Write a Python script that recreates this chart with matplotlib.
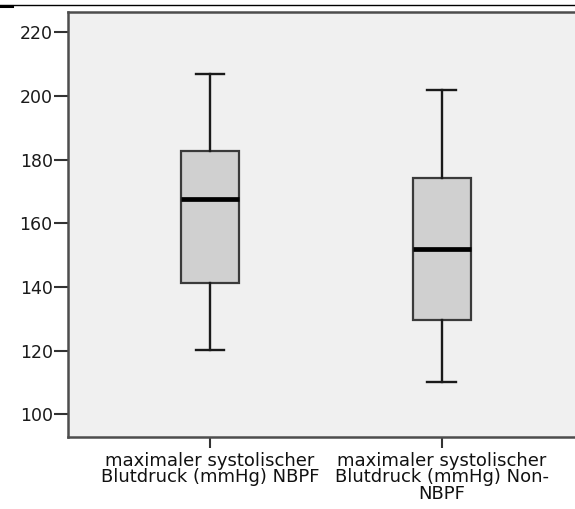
import matplotlib
matplotlib.use("Agg")
import matplotlib.pyplot as plt
from matplotlib.lines import Line2D

categories = ["maximaler systolischer\nBlutdruck (mmHg) NBPF",
              "maximaler systolischer\nBlutdruck (mmHg) Non-\nNBPF"]
whisker_low = [120.2, 110.0]
q1 = [141.1, 129.6]
median = [167.8, 151.8]
q3 = [182.8, 174.1]
whisker_high = [206.9, 202.0]
yticks = [100, 120, 140, 160, 180, 200, 220]

plt.rcParams['font.family'] = ['DejaVu Sans']

fig = plt.figure(figsize=(5.75, 5.09), dpi=100)
fig.patch.set_facecolor('white')
ax = fig.add_axes([68/575, 1-437/509, (583.7-68)/575, (437-11.7)/509])
ax.set_facecolor('#F0F0F0')

stats = []
for i in range(len(categories)):
    stats.append(dict(whislo=whisker_low[i], q1=q1[i], med=median[i],
                      q3=q3[i], whishi=whisker_high[i], fliers=[]))

ax.bxp(stats, positions=[1, 2], widths=0.25, patch_artist=True,
       showfliers=False,
       boxprops=dict(facecolor='#D0D0D0', edgecolor='#3a3a3a', linewidth=1.6),
       medianprops=dict(color='black', linewidth=3.4, solid_capstyle='butt'),
       whiskerprops=dict(color='#1a1a1a', linewidth=1.7),
       capprops=dict(color='#1a1a1a', linewidth=1.7))

ax.set_xlim(0.387, 2.613)
ax.set_ylim(92.87, 226.5)
ax.set_yticks(yticks)
ax.set_yticklabels([str(v) for v in yticks])
ax.set_xticks([1, 2])
ax.set_xticklabels(categories, linespacing=0.87)

for s in ['left', 'bottom', 'top']:
    ax.spines[s].set_color('#4d4d4d')
    ax.spines[s].set_linewidth(1.8)
ax.spines['right'].set_visible(False)

ax.tick_params(axis='y', length=10, width=1.5, color='#333333',
               labelsize=12.5, pad=1, labelcolor='#1a1a1a')
ax.tick_params(axis='x', length=8, width=1.5, color='#333333',
               labelsize=13, pad=3, labelcolor='#111111')

# top rule line of the page
fig.add_artist(Line2D([0, 1], [1-5.3/509, 1-5.3/509], color='black', lw=1.0,
                      transform=fig.transFigure))
fig.add_artist(Line2D([0, 12/575], [1-5.6/509, 1-5.6/509], color='black', lw=2.2,
                      transform=fig.transFigure))

fig.savefig('out.png', dpi=100)
